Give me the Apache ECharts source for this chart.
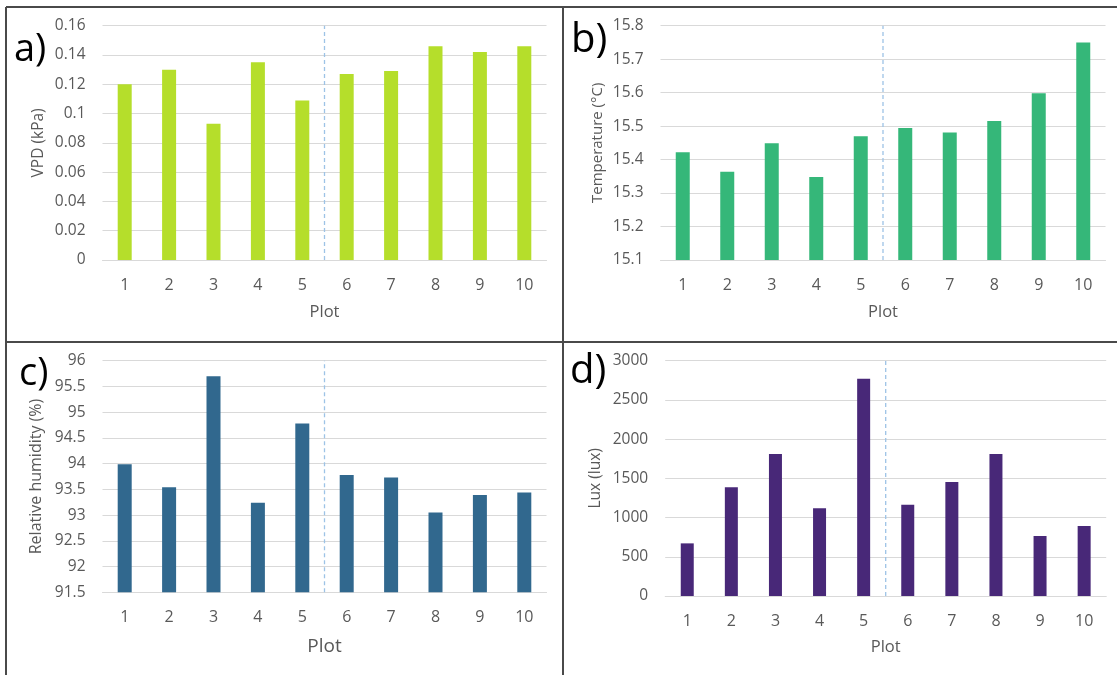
<!DOCTYPE html>
<html>
<head>
<meta charset="utf-8">
<script src="https://cdn.jsdelivr.net/npm/echarts@6/dist/echarts.min.js"></script>
<style>
html,body{margin:0;padding:0;background:#ffffff;}
#chart{width:1117px;height:675px;}
</style>
</head>
<body>
<div id="chart"></div>
<script>
// ---- data ----
const plots = ['1','2','3','4','5','6','7','8','9','10'];
const vpd = [0.120, 0.130, 0.093, 0.135, 0.109, 0.127, 0.129, 0.146, 0.142, 0.146];
const temperature = [15.422, 15.364, 15.449, 15.348, 15.470, 15.494, 15.481, 15.515, 15.598, 15.750];
const humidity = [93.99, 93.54, 95.70, 93.24, 94.78, 93.78, 93.73, 93.05, 93.39, 93.44];
const lux = [671, 1385, 1810, 1118, 2771, 1164, 1453, 1810, 765, 892];
// y-axis ranges [min, max, interval]
const vpdAxis = [0, 0.16, 0.02];
const temperatureAxis = [15.1, 15.8, 0.1];
const humidityAxis = [91.5, 96, 0.5];
const luxAxis = [0, 3000, 500];
// dashed divider between plot 5 and plot 6
const dividerAt = 5.5;
const panelLabels = ['a)', 'b)', 'c)', 'd)'];
const axisNames = ['VPD (kPa)', 'Temperature (°C)', 'Relative humidity (%)', 'Lux (lux)'];
const xAxisName = 'Plot';

const FONT = "'Open Sans', 'Noto Sans', sans-serif";
const TXT = '#595959';
const GRIDC = '#d9d9d9';

const panels = [
  {data: vpd, axis: vpdAxis, color: '#b5de2b',
   grid: {left: 102.5, top: 25.7, width: 444, height: 234.3},
   nameGap: 56, nameSize: 15.5, plotGap: 44, plotSize: 16.5, labelXY: [14, 50], labelSize: 38, barW: 14},
  {data: temperature, axis: temperatureAxis, color: '#35b779',
   grid: {left: 660.5, top: 25.7, width: 445, height: 234.3},
   nameGap: 55, nameSize: 15, plotGap: 44, plotSize: 16.5, labelXY: [571, 41], labelSize: 40, barW: 14},
  {data: humidity, axis: humidityAxis, color: '#31688e',
   grid: {left: 102.5, top: 360.7, width: 444, height: 231.6},
   nameGap: 58, nameSize: 16, plotGap: 45, plotSize: 19, labelXY: [19, 374], labelSize: 38, barW: 14},
  {data: lux, axis: luxAxis, color: '#482878',
   grid: {left: 665.2, top: 360.7, width: 441, height: 235.3},
   nameGap: 62, nameSize: 15.5, plotGap: 43, plotSize: 16.5, labelXY: [570, 372], labelSize: 40, barW: 13}
];

const grids = [], xAxes = [], yAxes = [], series = [], graphics = [];

panels.forEach((p, i) => {
  grids.push(Object.assign({containLabel: false}, p.grid));
  xAxes.push({
    type: 'category', gridIndex: i, data: plots,
    name: xAxisName, nameLocation: 'middle', nameGap: p.plotGap,
    nameTextStyle: {color: TXT, fontFamily: FONT, fontSize: p.plotSize},
    axisLine: {show: true, lineStyle: {color: GRIDC, width: 1}},
    axisTick: {show: false},
    axisLabel: {color: TXT, fontFamily: FONT, fontSize: 16, margin: 17, interval: 0},
    splitLine: {show: false}
  });
  yAxes.push({
    type: 'value', gridIndex: i,
    min: p.axis[0], max: p.axis[1], interval: p.axis[2],
    name: axisNames[i], nameLocation: 'middle', nameGap: p.nameGap, nameRotate: 90,
    nameTextStyle: {color: TXT, fontFamily: FONT, fontSize: p.nameSize},
    axisLine: {show: false}, axisTick: {show: false},
    axisLabel: {color: TXT, fontFamily: FONT, fontSize: 15.5, margin: 17,
                formatter: v => String(+v.toFixed(4))},
    splitLine: {show: true, lineStyle: {color: GRIDC, width: 1}}
  });
  series.push({
    type: 'bar', xAxisIndex: i, yAxisIndex: i, data: p.data,
    barWidth: p.barW, silent: true, animation: false,
    itemStyle: {color: p.color}
  });
  graphics.push({
    type: 'text', x: p.labelXY[0], y: p.labelXY[1], silent: true,
    style: {text: panelLabels[i], fill: '#000000', fontFamily: FONT, fontSize: p.labelSize,
            textAlign: 'left', textVerticalAlign: 'middle'}
  });
});

// hidden value x-axes used to place the divider between plot 5 and 6
panels.forEach((p, i) => {
  xAxes.push({
    type: 'value', gridIndex: i, min: 0.5, max: 10.5, show: false,
    splitLine: {show: false}
  });
  series.push({
    type: 'line', xAxisIndex: 4 + i, yAxisIndex: i, silent: true, animation: false,
    clip: false, symbol: 'none',
    data: [[dividerAt, p.axis[0]], [dividerAt, p.axis[1]]],
    lineStyle: {color: '#9dc3e6', width: 1.3, type: [4, 3]},
    z: 5
  });
});

// panel frame lines
const frame = [
  [6, 7, 6, 675], [6, 7, 1117, 7], [563, 7, 563, 675], [6, 342, 1117, 342]
];
frame.forEach(f => {
  graphics.push({
    type: 'line', silent: true,
    shape: {x1: f[0], y1: f[1], x2: f[2], y2: f[3]},
    style: {stroke: '#4a4a4a', lineWidth: 2}
  });
});

const chart = echarts.init(document.getElementById('chart'), null, {renderer: 'canvas'});
chart.setOption({
  animation: false,
  backgroundColor: '#ffffff',
  grid: grids,
  xAxis: xAxes,
  yAxis: yAxes,
  series: series,
  graphic: graphics
});
</script>
</body>
</html>
